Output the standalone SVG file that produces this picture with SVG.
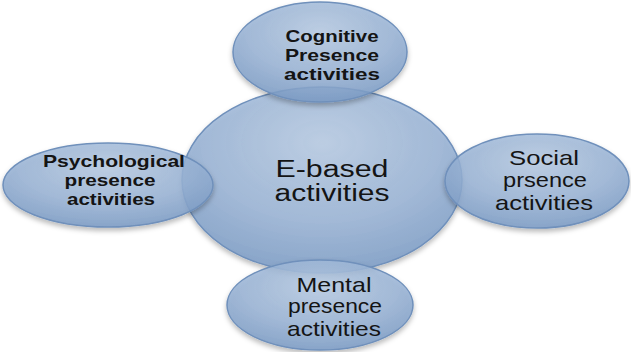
<svg xmlns="http://www.w3.org/2000/svg" width="631" height="352" viewBox="0 0 631 352">
<defs>
<radialGradient id="g" cx="50%" cy="30%" r="70%">
<stop offset="0" stop-color="#b7cbe3" stop-opacity="0.85"/>
<stop offset="0.6" stop-color="#97b2d5" stop-opacity="0.82"/>
<stop offset="1" stop-color="#7c9cc6" stop-opacity="0.85"/>
</radialGradient>
<filter id="sh" x="-10%" y="-10%" width="120%" height="130%">
<feDropShadow dx="0" dy="3" stdDeviation="2.5" flood-color="#000" flood-opacity="0.3"/>
</filter>
</defs>
<style>
.e{fill:url(#g);stroke:#6f90bb;stroke-width:1.5;filter:url(#sh)}
text{font-family:"Liberation Sans",Arial,sans-serif;fill:#141414;text-anchor:middle}
.b{font-weight:bold}
</style>
<rect width="631" height="352" fill="#ffffff"/>
<g id="connectors"/>
<g id="center">
<ellipse class="e" cx="322" cy="180" rx="140" ry="93"/>
<text x="332" y="177" font-size="23" textLength="113" lengthAdjust="spacingAndGlyphs">E-based</text>
<text x="332" y="201" font-size="23" textLength="115" lengthAdjust="spacingAndGlyphs">activities</text>
</g>
<g id="cognitive">
<ellipse class="e" cx="320" cy="52" rx="87" ry="50"/>
<text class="b" x="332" y="42" font-size="17" textLength="93" lengthAdjust="spacingAndGlyphs">Cognitive</text>
<text class="b" x="332" y="61" font-size="17" textLength="94" lengthAdjust="spacingAndGlyphs">Presence</text>
<text class="b" x="332" y="80" font-size="17" textLength="96" lengthAdjust="spacingAndGlyphs">activities</text>
</g>
<g id="psychological">
<ellipse class="e" cx="108" cy="185" rx="105" ry="42"/>
<text class="b" x="114" y="167" font-size="17" textLength="142" lengthAdjust="spacingAndGlyphs">Psychological</text>
<text class="b" x="110" y="186" font-size="17" textLength="91" lengthAdjust="spacingAndGlyphs">presence</text>
<text class="b" x="111" y="205" font-size="17" textLength="88" lengthAdjust="spacingAndGlyphs">activities</text>
</g>
<g id="social">
<ellipse class="e" cx="537" cy="181" rx="92" ry="47"/>
<text x="544" y="165" font-size="21" textLength="70" lengthAdjust="spacingAndGlyphs">Social</text>
<text x="545" y="187" font-size="21" textLength="84" lengthAdjust="spacingAndGlyphs">prsence</text>
<text x="544" y="210" font-size="21" textLength="98" lengthAdjust="spacingAndGlyphs">activities</text>
</g>
<g id="mental">
<ellipse class="e" cx="320" cy="305" rx="93" ry="45"/>
<text x="334" y="292" font-size="21" textLength="75" lengthAdjust="spacingAndGlyphs">Mental</text>
<text x="335" y="313" font-size="21" textLength="94" lengthAdjust="spacingAndGlyphs">presence</text>
<text x="334" y="336" font-size="21" textLength="94" lengthAdjust="spacingAndGlyphs">activities</text>
</g>
</svg>
